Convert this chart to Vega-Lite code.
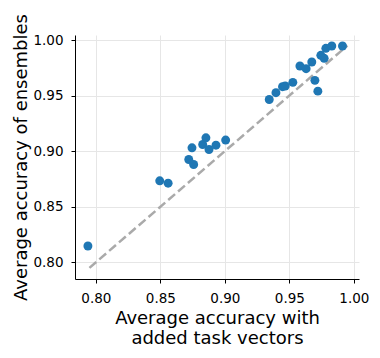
{
  "$schema": "https://vega.github.io/schema/vega-lite/v6.json",
  "width": 284,
  "height": 244,
  "autosize": {"type": "none"},
  "padding": {"left": 75, "top": 35, "right": 21, "bottom": 79},
  "background": "white",
  "config": {
    "view": {"stroke": null},
    "font": "DejaVu Sans",
    "axis": {
      "domainColor": "black",
      "domainWidth": 1,
      "tickColor": "black",
      "tickSize": 4,
      "tickWidth": 1,
      "labelFont": "DejaVu Sans",
      "labelFontSize": 13.5,
      "labelColor": "black",
      "labelPadding": 8,
      "gridColor": "#e6e6e6",
      "gridWidth": 1,
      "titleFont": "DejaVu Sans",
      "titleFontSize": 18,
      "titleFontWeight": "normal",
      "titleColor": "black"
    }
  },
  "datasets": {
    "pts": [
      {"added": 0.7938, "ensemble": 0.8147},
      {"added": 0.8495, "ensemble": 0.8733},
      {"added": 0.856, "ensemble": 0.8712},
      {"added": 0.872, "ensemble": 0.8925},
      {"added": 0.8758, "ensemble": 0.888},
      {"added": 0.8745, "ensemble": 0.903},
      {"added": 0.8828, "ensemble": 0.906},
      {"added": 0.8853, "ensemble": 0.912},
      {"added": 0.8877, "ensemble": 0.9015},
      {"added": 0.8931, "ensemble": 0.9054},
      {"added": 0.9006, "ensemble": 0.910},
      {"added": 0.9344, "ensemble": 0.9465},
      {"added": 0.9396, "ensemble": 0.9526},
      {"added": 0.9447, "ensemble": 0.958},
      {"added": 0.9468, "ensemble": 0.9586},
      {"added": 0.9527, "ensemble": 0.9619},
      {"added": 0.9582, "ensemble": 0.9766},
      {"added": 0.963, "ensemble": 0.9742},
      {"added": 0.9674, "ensemble": 0.9802},
      {"added": 0.9698, "ensemble": 0.9637},
      {"added": 0.9721, "ensemble": 0.954},
      {"added": 0.9744, "ensemble": 0.9862},
      {"added": 0.977, "ensemble": 0.9835},
      {"added": 0.9783, "ensemble": 0.9925},
      {"added": 0.9829, "ensemble": 0.9946},
      {"added": 0.9912, "ensemble": 0.9946}
    ],
    "diag": [
      {"added": 0.795, "ensemble": 0.795},
      {"added": 0.995, "ensemble": 0.995}
    ]
  },
  "layer": [
    {
      "data": {"name": "diag"},
      "mark": {"type": "line", "color": "#aaaaaa", "strokeWidth": 2.5, "strokeDash": [9, 4]},
      "encoding": {
        "x": {"field": "added", "type": "quantitative",
          "scale": {"domain": [0.7838, 1.004], "nice": false, "zero": false},
          "axis": {"values": [0.8, 0.85, 0.9, 0.95, 1.0], "format": ".2f",
            "title": ["Average accuracy with", "added task vectors"],
            "titleLineHeight": 20, "titleBaseline": "alphabetic", "titleY": 44, "titleX": 142}},
        "y": {"field": "ensemble", "type": "quantitative",
          "scale": {"domain": [0.785, 1.0045], "nice": false, "zero": false},
          "axis": {"values": [0.8, 0.85, 0.9, 0.95, 1.0], "format": ".2f",
            "title": "Average accuracy of ensembles",
            "titleBaseline": "alphabetic", "titleAngle": -90, "titleX": -49, "titleY": 122}}
      }
    },
    {
      "data": {"name": "pts"},
      "mark": {"type": "point", "filled": true, "opacity": 1, "color": "#1f77b4", "size": 80},
      "encoding": {
        "x": {"field": "added", "type": "quantitative"},
        "y": {"field": "ensemble", "type": "quantitative"}
      }
    }
  ]
}
